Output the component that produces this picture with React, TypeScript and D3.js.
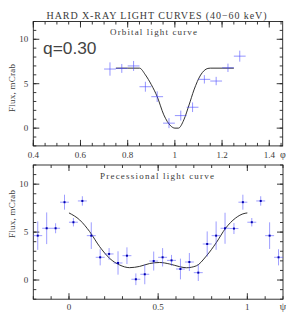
import React from "react";
import * as d3 from "d3";

// orbital light curve, phase bins (phi), flux and error in mCrab
const orbPhase = [0.725, 0.775, 0.825, 0.875, 0.925, 0.975, 1.025, 1.075, 1.125, 1.175, 1.225, 1.275];
const orbFlux = [6.65, 6.72, 7.0, 4.66, 3.54, 0.56, 1.41, 2.35, 5.49, 5.3, 6.79, 8.1];
const orbErr = [0.75, 0.5, 0.56, 0.56, 0.6, 0.56, 0.56, 0.54, 0.47, 0.47, 0.47, 0.62];

// orbital model curve
const orbModelPhase = [0.75, 0.8, 0.85, 0.875, 0.9, 0.925, 0.953, 0.982, 1.0, 1.015, 1.038, 1.06, 1.081, 1.109, 1.14, 1.15, 1.2, 1.25];
const orbModelFlux = [6.75, 6.75, 6.75, 6.0, 4.9, 3.55, 1.5, 0.26, 0.0, 0.0, 0.93, 2.6, 4.3, 5.97, 6.72, 6.75, 6.75, 6.75];

// precessional light curve (psi)
const precPsi = [
  -0.175, -0.125, -0.075, -0.025,
  0.025, 0.075, 0.125, 0.175, 0.225, 0.275, 0.325, 0.375, 0.425, 0.475,
  0.525, 0.575, 0.625, 0.675, 0.725, 0.775, 0.825, 0.875, 0.925, 0.975,
  1.025, 1.075, 1.125, 1.175,
];
const precFlux = [
  4.63, 5.4, 5.4, 8.12,
  6.03, 8.25, 4.63, 2.37, 2.72, 1.78, 2.54, 0.08, 0.6, 1.98,
  2.37, 2.05, 1.15, 1.88, 0.77, 3.76, 4.63, 5.4, 5.37, 8.12,
  6.03, 8.25, 4.63, 2.37,
];
const precErr = [
  1.48, 1.65, 0.52, 0.78,
  0.44, 0.49, 1.39, 0.84, 0.61, 1.22, 0.87, 0.61, 1.04, 0.99,
  0.96, 0.57, 1.08, 0.94, 0.87, 1.31, 1.48, 1.62, 0.57, 0.78,
  0.44, 0.49, 1.39, 0.84,
];

const precModelPsi = [0.0, 0.06, 0.116, 0.172, 0.228, 0.284, 0.34, 0.396, 0.452, 0.508, 0.565, 0.621, 0.658, 0.714, 0.77, 0.826, 0.878, 0.933, 0.975, 1.0];
const precModelFlux = [7.0, 6.27, 5.05, 3.48, 2.26, 1.57, 1.29, 1.42, 1.72, 1.83, 1.67, 1.39, 1.28, 1.48, 2.5, 3.9, 5.4, 6.45, 6.9, 7.0];

const orbTicks = ["0.4", "0.6", "0.8", "1", "1.2", "1.4"];
const precTicks = ["0", "0.5", "1"];
const yTicks = ["0", "5", "10"];

const serif = "'Liberation Serif', 'DejaVu Serif', serif";
const ink = "#3a3a3a";
const crossCol = "#4a4aff";

type Panel = {
  x: d3.ScaleLinear<number, number>;
  y: d3.ScaleLinear<number, number>;
  minorX: number[];
  majorX: number[];
};

function Frame({ x, y, minorX, majorX }: Panel) {
  const [x0, x1] = x.range();
  const [y0, y1] = y.range();
  const minorY = d3.range(-2, 12.01, 1);
  const majorY = yTicks.map(Number);
  return (
    <g stroke="#222" strokeWidth={0.9} fill="none">
      <rect x={x0} y={y1} width={x1 - x0} height={y0 - y1} />
      {minorX.map((v, i) => (
        <g key={"mx" + i}>
          <line x1={x(v)} x2={x(v)} y1={y0} y2={y0 - 3} />
          <line x1={x(v)} x2={x(v)} y1={y1} y2={y1 + 3} />
        </g>
      ))}
      {majorX.map((v, i) => (
        <g key={"Mx" + i}>
          <line x1={x(v)} x2={x(v)} y1={y0} y2={y0 - 6} />
          <line x1={x(v)} x2={x(v)} y1={y1} y2={y1 + 6} />
        </g>
      ))}
      {minorY.map((v, i) => (
        <g key={"my" + i}>
          <line x1={x0} x2={x0 + 3} y1={y(v)} y2={y(v)} />
          <line x1={x1} x2={x1 - 3} y1={y(v)} y2={y(v)} />
        </g>
      ))}
      {majorY.map((v, i) => (
        <g key={"My" + i}>
          <line x1={x0} x2={x0 + 6} y1={y(v)} y2={y(v)} />
          <line x1={x1} x2={x1 - 6} y1={y(v)} y2={y(v)} />
        </g>
      ))}
    </g>
  );
}

function YLabels({ x, y, labelY }: { x: d3.ScaleLinear<number, number>; y: d3.ScaleLinear<number, number>; labelY: number }) {
  const x0 = x.range()[0];
  return (
    <g fill={ink} fontFamily={serif} fontSize={9}>
      {yTicks.map((t) => (
        <text key={t} x={x0 - 5} y={y(+t) + 3} textAnchor="end">{t}</text>
      ))}
      <text
        transform={`translate(15,${labelY}) rotate(-90)`}
        textAnchor="middle"
        textLength={48}
        lengthAdjust="spacing"
      >
        Flux, mCrab
      </text>
    </g>
  );
}

export default function App() {
  const xo = d3.scaleLinear().domain([0.4, 1.457]).range([33.3, 282.7]);
  const yo = d3.scaleLinear().domain([-2, 12]).range([145.9, 21.5]);
  const xp = d3.scaleLinear().domain([-0.2, 1.2]).range([33.3, 283]);
  const yp = d3.scaleLinear().domain([-2, 12]).range([299.2, 165]);

  const orbLine = d3
    .line<number>()
    .x((d) => xo(d))
    .y((_, i) => yo(orbModelFlux[i]))
    .curve(d3.curveMonotoneX);
  const precLine = d3
    .line<number>()
    .x((d) => xp(d))
    .y((_, i) => yp(precModelFlux[i]))
    .curve(d3.curveMonotoneX);

  const orbMinor = d3.range(0.4, 1.46, 0.05).map((v) => +v.toFixed(2));
  const precMinor = d3.range(-0.2, 1.201, 0.1).map((v) => +v.toFixed(2));

  return (
    <svg width={296} height={319} style={{ position: "absolute", left: 0, top: 0, background: "#fff" }}>
      <rect width={296} height={319} fill="#fff" />

      {/* title */}
      <text x={156.5} y={19} fill={ink} fontFamily={serif} fontSize={10} textAnchor="middle" textLength={220} lengthAdjust="spacing">
        HARD X-RAY LIGHT CURVES (40−60 keV)
      </text>

      {/* ---- orbital panel ---- */}
      <Frame x={xo} y={yo} minorX={orbMinor} majorX={orbTicks.map(Number)} />
      <YLabels x={xo} y={yo} labelY={88} />
      <g fill={ink} fontFamily={serif} fontSize={9} textAnchor="middle">
        {orbTicks.map((t) => (
          <text key={t} x={xo(+t)} y={158}>{t}</text>
        ))}
        <text x={283} y={158} fontSize={10}>φ</text>
        <text x={153.5} y={34.5} textLength={87} lengthAdjust="spacing">Orbital light curve</text>
      </g>
      <text x={43} y={53.5} fill="#444" fontFamily="'Liberation Sans', Arial, sans-serif" fontSize={16} textLength={53.5} lengthAdjust="spacingAndGlyphs">
        q=0.30
      </text>
      <path d={orbLine(orbModelPhase) ?? ""} fill="none" stroke="#1a1a1a" strokeWidth={0.9} />
      <g stroke={crossCol} strokeWidth={0.9} strokeOpacity={0.65}>
        {orbPhase.map((p, i) => (
          <g key={i}>
            <line x1={xo(p - 0.025)} x2={xo(p + 0.025)} y1={yo(orbFlux[i])} y2={yo(orbFlux[i])} />
            <line x1={xo(p)} x2={xo(p)} y1={yo(orbFlux[i] - orbErr[i])} y2={yo(orbFlux[i] + orbErr[i])} />
          </g>
        ))}
      </g>

      {/* ---- precessional panel ---- */}
      <Frame x={xp} y={yp} minorX={precMinor} majorX={precTicks.map(Number)} />
      <YLabels x={xp} y={yp} labelY={214} />
      <g fill={ink} fontFamily={serif} fontSize={9} textAnchor="middle">
        {precTicks.map((t) => (
          <text key={t} x={xp(+t)} y={310}>{t}</text>
        ))}
        <text x={283} y={310} fontSize={10}>ψ</text>
        <text x={157} y={179} textLength={114} lengthAdjust="spacing">Precessional light curve</text>
      </g>
      <path d={precLine(precModelPsi) ?? ""} fill="none" stroke="#1a1a1a" strokeWidth={0.9} />
      <g stroke={crossCol} strokeWidth={0.9} strokeOpacity={0.6}>
        {precPsi.map((p, i) => (
          <g key={i}>
            <line x1={xp(p - 0.025)} x2={xp(p + 0.025)} y1={yp(precFlux[i])} y2={yp(precFlux[i])} />
            <line x1={xp(p)} x2={xp(p)} y1={yp(precFlux[i] - precErr[i])} y2={yp(precFlux[i] + precErr[i])} />
          </g>
        ))}
      </g>
      <g fill="#0000b0">
        {precPsi.map((p, i) => (
          <rect key={i} x={xp(p) - 1} y={yp(precFlux[i]) - 1} width={2} height={2} />
        ))}
      </g>
    </svg>
  );
}
